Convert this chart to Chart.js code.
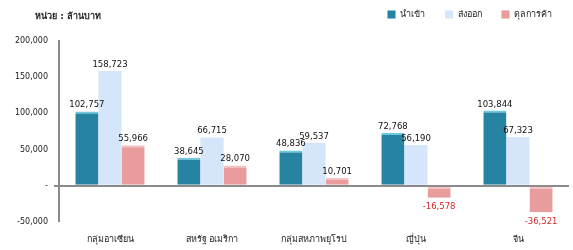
<!DOCTYPE html>
<html>
<head>
<meta charset="utf-8">
<script src="https://cdn.jsdelivr.net/npm/chart.js@4/dist/chart.umd.min.js"></script>
<style>
  html, body { margin: 0; padding: 0; background: #fff; }
  #wrap { width: 573px; height: 250px; }
</style>
</head>
<body>
<div id="wrap"><canvas id="chart"></canvas></div>
<script>
const categories = ['กลุ่มอาเซียน', 'สหรัฐ อเมริกา', 'กลุ่มสหภาพยุโรป', 'ญี่ปุ่น', 'จีน'];
const importValues = [102757, 38645, 48836, 72768, 103844];
const exportValues = [158723, 66715, 59537, 56190, 67323];
const balanceValues = [55966, 28070, 10701, -16578, -36521];
const seriesNames = ['นำเข้า', 'ส่งออก', 'ดุลการค้า'];
const unitLabel = 'หน่วย : ล้านบาท';

const FONT = "'DejaVu Sans', 'Noto Sans', sans-serif";

// legend row takes the space above the plot (plot starts at y=41),
// then the legend itself is nudged up so its row sits at y~15
const legendHeight = {
  id: 'legendHeight',
  afterInit(chart) {
    const lg = chart.legend;
    const fit = lg.fit;
    lg.fit = function () { fit.call(this); this.height = 41; };
  },
  afterLayout(chart) {
    const lg = chart.legend;
    lg.top -= 10;
    lg.bottom -= 10;
    lg.left += 3;
    lg.right += 3;
  }
};

// unit text top-left + value labels above/below each bar
const labelsPlugin = {
  id: 'labels',
  afterDatasetsDraw(chart) {
    const ctx = chart.ctx;
    ctx.save();
    ctx.font = 'bold 9px ' + FONT;
    ctx.fillStyle = '#222';
    ctx.textAlign = 'left';
    ctx.textBaseline = 'middle';
    ctx.fillText(unitLabel, 35, 17);

    ctx.font = '8.5px ' + FONT;
    ctx.textAlign = 'center';
    chart.data.datasets.forEach((ds, i) => {
      chart.getDatasetMeta(i).data.forEach((bar, j) => {
        const v = ds.data[j];
        const txt = v.toLocaleString('en-US');
        if (v >= 0) {
          ctx.fillStyle = '#111';
          ctx.textBaseline = 'bottom';
          ctx.fillText(txt, bar.x, bar.y - 2);
        } else {
          ctx.fillStyle = '#d42a2a';
          ctx.textBaseline = 'top';
          ctx.fillText(txt, bar.x, bar.y + 5);
        }
      });
    });
    ctx.restore();
  }
};

new Chart(document.getElementById('chart'), {
  type: 'bar',
  data: {
    labels: categories,
    datasets: [
      {
        label: seriesNames[0],
        data: importValues,
        backgroundColor: '#2683a2',
        borderColor: '#6cc9df',
        borderWidth: { top: 2, left: 0, right: 0, bottom: 0 },
        borderSkipped: 'bottom'
      },
      {
        label: seriesNames[1],
        data: exportValues,
        backgroundColor: '#d5e6fa',
        borderWidth: 0
      },
      {
        label: seriesNames[2],
        data: balanceValues,
        backgroundColor: '#e89c9c',
        borderColor: '#f3c3c3',
        borderWidth: { top: 2, left: 0, right: 0, bottom: 0 },
        borderSkipped: false
      }
    ]
  },
  options: {
    responsive: true,
    maintainAspectRatio: false,
    animation: false,
    layout: { padding: { left: 0, right: 4, top: 0, bottom: 0 } },
    datasets: { bar: { categoryPercentage: 0.68, barPercentage: 1.0 } },
    plugins: {
      legend: {
        align: 'end',
        labels: {
          font: { family: FONT, size: 9 },
          color: '#222',
          boxWidth: 8,
          boxHeight: 8,
          padding: 20
        }
      },
      tooltip: { enabled: false }
    },
    scales: {
      x: {
        border: { display: false },
        grid: { display: false, drawTicks: false },
        ticks: { font: { family: FONT, size: 9 }, color: '#222', padding: 12 },
        afterFit(scale) { scale.height = 28; }
      },
      y: {
        min: -50000,
        max: 200000,
        border: { display: true, color: '#8a8a8a', width: 2 },
        grid: {
          drawOnChartArea: true,
          tickLength: 5,
          tickColor: '#8a8a8a',
          color: ctx => ctx.tick && ctx.tick.value === 0 ? '#8a8a8a' : 'rgba(0,0,0,0)',
          lineWidth: ctx => ctx.tick && ctx.tick.value === 0 ? 2 : 0
        },
        ticks: {
          stepSize: 50000,
          font: { family: FONT, size: 8 },
          color: '#222',
          padding: 6,
          callback: v => v === 0 ? '-' : v.toLocaleString('en-US')
        },
        afterFit(scale) { scale.width = 59; }
      }
    }
  },
  plugins: [legendHeight, labelsPlugin]
});
</script>
</body>
</html>
